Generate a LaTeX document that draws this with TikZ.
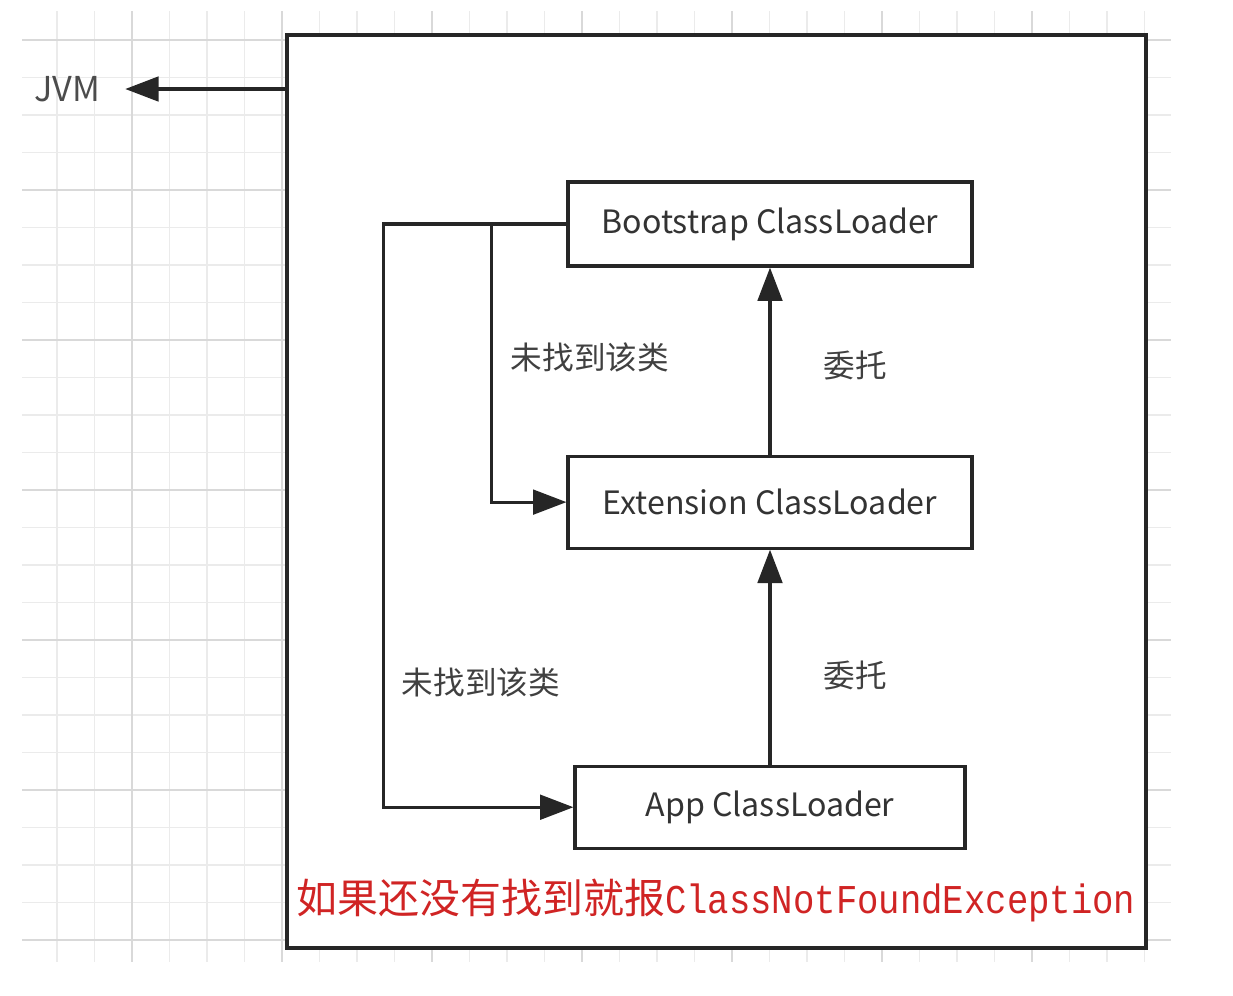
\documentclass[tikz,border=0pt]{standalone}
\usepackage{fontspec}
\setmainfont{Noto Sans CJK SC}
\newfontfamily\redmono[FakeStretch=0.87]{Liberation Mono}
\definecolor{alarm}{RGB}{208,36,36}
\usetikzlibrary{arrows.meta, positioning}

\begin{document}
\begin{tikzpicture}[x=0.02cm,y=-0.02cm]

	\tikzset{
		loader/.style={
				rectangle, draw=black!85, fill=white, line width=1.8pt, minimum width=8.08cm, minimum height=1.68cm, inner sep=0pt, font=\fontsize{18.3}{21}\selectfont, text=black!80
			},
		note/.style={
				inner sep=0pt, font=\fontsize{18}{21}\selectfont, text=black!75
			},
		flow/.style={
				draw=black!85, line width=1.8pt, -{Triangle[length=19pt,width=14pt]}
			},
		gridminor/.style={draw=black!8, line width=0.6pt},
		gridmajor/.style={draw=black!15, line width=0.8pt},
	}

	\useasboundingbox (0,0) rectangle (1233,995);

	% background grid
	\foreach \k in {-2,...,27}
		\draw[gridminor] ({132+37.5*\k},11) -- ({132+37.5*\k},962);
	\foreach \k in {-4,...,20}
		\draw[gridminor] (22,{190+37.5*\k}) -- (1171,{190+37.5*\k});
	\foreach \k in {0,...,6}
		\draw[gridmajor] ({132+150*\k},11) -- ({132+150*\k},962);
	\foreach \k in {-1,...,5}
		\draw[gridmajor] (22,{190+150*\k}) -- (1171,{190+150*\k});

	\node[draw=black!85, fill=white, line width=2.2pt, minimum width=17.18cm, minimum height=18.26cm](frame) at (716.5,491.5){};
	\node[note, inner xsep=0.5cm, text=black!70, font=\fontsize{19.5}{22}\selectfont](jvm) at (67,89){JVM};

	\node[loader](boot) at (770,224){Bootstrap ClassLoader};
	\node[loader, minimum height=1.84cm, below=3.74cm of boot](ext){Extension ClassLoader};
	\node[loader, minimum width=7.8cm, minimum height=1.64cm, below=4.3cm of ext](app){App ClassLoader};

	\node[note](d1) at (855,365){委托};
	\node[note](d2) at (855,675){委托};
	\node[note](n1) at (590,357){未找到该类};
	\node[note](n2) at (481,682){未找到该类};

	\node[inner sep=0pt, text=alarm, font=\fontsize{23.3}{26}\selectfont](msg) at (716,900){如果还没有找到就报{\redmono ClassNotFoundException}};

	\draw[flow] (frame.west |- jvm.east) -- (jvm.east);

	\draw[flow] (app) -- (ext);
	\draw[flow] (ext) -- (boot);

	\draw[flow] (boot.west) -- ++(-75,0) |- (ext.west);
	\draw[flow] (boot.west) -- ++(-183,0) |- (app.west);

\end{tikzpicture}
\end{document}
